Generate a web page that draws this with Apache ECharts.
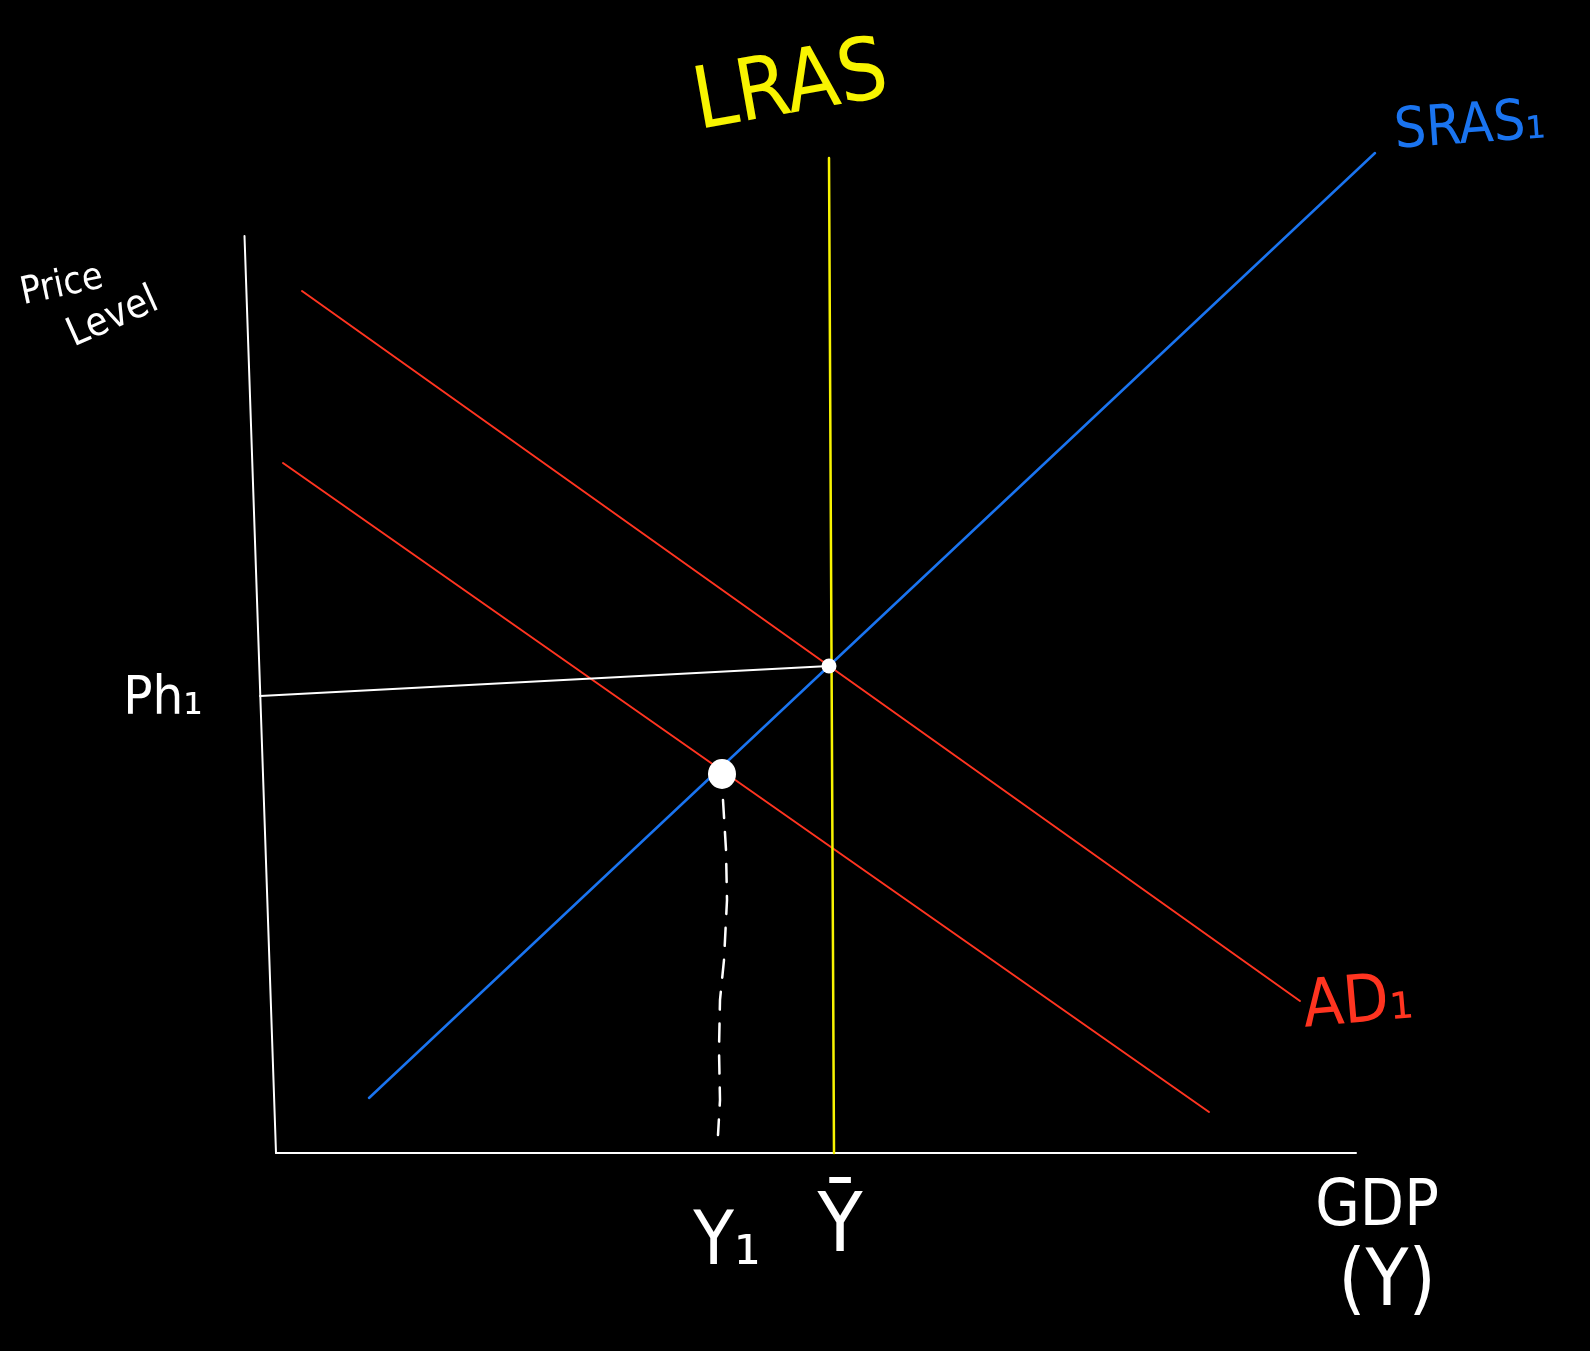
<!DOCTYPE html>
<html>
<head>
<meta charset="utf-8">
<script src="https://cdn.jsdelivr.net/npm/echarts@6/dist/echarts.min.js"></script>
<style>
html,body{margin:0;padding:0;background:#000;}
#chart{width:1590px;height:1351px;}
</style>
</head>
<body>
<div id="chart"></div>
<script>
// Data space: GDP (x) 0..159, Price Level (y) 0..135.1
var yAxisLine = [[24.45, 111.5], [27.6, 19.8]];
var xAxisLine = [[27.6, 19.8], [135.6, 19.8]];
var ad1 = [[30.2, 106.0], [130.0, 35.0]];
var ad2 = [[28.3, 88.8], [120.9, 23.9]];
var sras1 = [[36.9, 25.3], [137.5, 119.8]];
var lras = [[82.9, 119.3], [83.4, 19.8]];
var ph1Line = [[26.0, 65.5], [82.9, 68.5]];
var y1Drop = [[72.3, 55.1], [72.6, 50.1], [72.7, 45.1], [72.4, 39.1], [72.0, 35.1], [71.9, 30.1], [72.0, 25.1], [71.8, 21.6]];
var eqPoints = [[82.9, 68.5]];
var newEqPoints = [[72.2, 57.7]];

var labelNames = ['LRAS', 'SRAS\u2081', 'AD\u2081', 'Price', 'Level', 'Ph\u2081', 'Y\u2081', '\u0232', 'GDP', '(Y)'];
var labelPos = [[79.1, 126.1], [147.0, 122.3], [135.8, 34.6], [6.2, 106.5], [11.3, 103.3], [16.3, 65.1], [72.7, 10.6], [84.0, 12.1], [137.7, 14.3], [138.7, 6.6]];

var RED = '#ff3420', BLUE = '#1a74f0', YELLOW = '#f8f400', WHITE = '#ffffff';
var labelColor = [YELLOW, BLUE, RED, WHITE, WHITE, WHITE, WHITE, WHITE, WHITE, WHITE];
var labelSize = [86, 56, 66, 38, 40, 54, 74, 82, 64, 78];
var labelRotate = [10, 4, 5, 12, 24, 0, 0, 0, 0, 0];

var FONT = "'DejaVu Sans Condensed', 'Liberation Sans Narrow', 'DejaVu Sans', sans-serif";

function lineSeries(data, color, width, type) {
  return {
    type: 'line', data: data, symbol: 'none', silent: true, animation: false,
    lineStyle: { color: color, width: width, type: type || 'solid', cap: 'round', opacity: 1 },
    z: 2
  };
}

var labelData = labelNames.map(function (n, i) {
  return {
    value: labelPos[i], name: n,
    label: {
      show: true, position: 'inside', formatter: n, color: labelColor[i],
      fontSize: labelSize[i], fontFamily: FONT, rotate: labelRotate[i], opacity: 1
    }
  };
});

var chart = echarts.init(document.getElementById('chart'));
chart.setOption({
  backgroundColor: '#000',
  animation: false,
  grid: { left: 0, right: 0, top: 0, bottom: 0 },
  xAxis: { type: 'value', min: 0, max: 159, show: false },
  yAxis: { type: 'value', min: 0, max: 135.1, show: false },
  series: [
    lineSeries(yAxisLine, WHITE, 2),
    lineSeries(xAxisLine, WHITE, 2),
    lineSeries(ad1, RED, 2),
    lineSeries(ad2, RED, 2),
    lineSeries(sras1, BLUE, 2.5),
    lineSeries(lras, YELLOW, 2.5),
    lineSeries(ph1Line, WHITE, 2),
    lineSeries(y1Drop, WHITE, 2.5, [18, 14]),
    {
      type: 'scatter', data: eqPoints, symbol: 'circle', symbolSize: 15,
      itemStyle: { color: WHITE, opacity: 1 }, silent: true, z: 5
    },
    {
      type: 'scatter', data: newEqPoints, symbol: 'circle', symbolSize: [28, 30],
      itemStyle: { color: WHITE, opacity: 1 }, silent: true, z: 5
    },
    {
      type: 'scatter', data: labelData, symbolSize: 0, silent: true, z: 6,
      itemStyle: { color: '#000', opacity: 1 }
    }
  ]
});
</script>
</body>
</html>
